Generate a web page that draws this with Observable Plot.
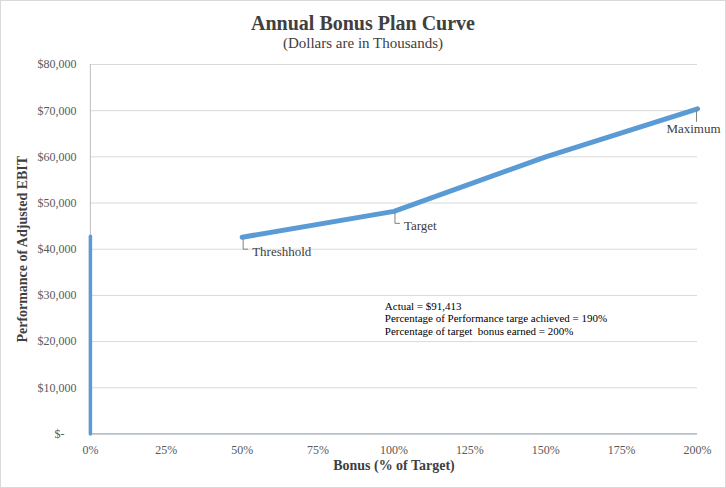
<!DOCTYPE html>
<html>
<head>
<meta charset="utf-8">
<script src="https://cdn.jsdelivr.net/npm/d3@7"></script>
<script src="https://cdn.jsdelivr.net/npm/@observablehq/plot@0.6"></script>
<style>
  html, body { margin: 0; padding: 0; background: #fff; }
  #frame { position: relative; width: 724px; height: 486px; border: 1px solid #d9d9d9; overflow: hidden; font-family: "Liberation Serif", "Times New Roman", serif; }
  #title { position: absolute; left: 0; width: 100%; top: 9px; text-align: center; font-size: 20px; font-weight: bold; color: #404040; line-height: 26px; }
  #subtitle { position: absolute; left: 0; width: 100%; top: 32px; text-align: center; font-size: 15px; color: #404040; line-height: 20px; }
  #chart { position: absolute; left: -1px; top: 54px; }
</style>
</head>
<body>
<div id="frame">
  <div id="title">Annual Bonus Plan Curve</div>
  <div id="subtitle">(Dollars are in Thousands)</div>
  <div id="chart"></div>
</div>
<script>
// ---- data ----
const bonusPct = [50, 100, 150, 200];
const ebit = [42600, 48200, 60000, 70400];
const zeroBarX = [0, 0];
const zeroBarY = [0, 42800];
const pointLabels = ["Threshhold", "Target", "", "Maximum"];
const xTicks = [0, 25, 50, 75, 100, 125, 150, 175, 200];
const yTicks = [0, 10000, 20000, 30000, 40000, 50000, 60000, 70000, 80000];
const noteLines = [
  "Actual = $91,413",
  "Percentage of Performance targe achieved = 190%",
  "Percentage of target  bonus earned = 200%"
];
const noteX = 97;
const noteY = [27700, 24900, 22100];

const curve = bonusPct.map((x, i) => ({x, y: ebit[i], label: pointLabels[i]}));
const zeroBar = zeroBarX.map((x, i) => ({x, y: zeroBarY[i]}));
const notes = noteLines.map((t, i) => ({x: noteX, y: noteY[i], t}));

const blue = "#5b9bd5";
const fmtY = d => d === 0 ? "$-\u00a0\u00a0\u00a0\u00a0" : "$" + d3.format(",")(d);

const leaderL = { draw(ctx) { ctx.moveTo(0, 1); ctx.lineTo(0, 12); ctx.lineTo(5, 12); } };
const leaderI = { draw(ctx) { ctx.moveTo(0, 1); ctx.lineTo(0, 13); } };

const plot = Plot.plot({
  width: 726,
  height: 432,
  marginTop: 9,
  marginBottom: 53,
  marginLeft: 90,
  marginRight: 28,
  style: { fontFamily: "Liberation Serif, Times New Roman, serif", fontSize: "12px", color: "#595959", background: "white" },
  x: { domain: [0, 200], label: null },
  y: { domain: [0, 80000], label: null },
  marks: [
    Plot.gridY(yTicks, { stroke: "#d9d9d9", strokeOpacity: 1, strokeWidth: 1 }),
    Plot.ruleX([0], { stroke: "#bfbfbf", strokeWidth: 1 }),
    Plot.ruleY([0], { stroke: "#a6b3c4", strokeWidth: 1.2 }),
    Plot.axisY(yTicks, { tickSize: 0, tickPadding: 14, tickFormat: fmtY, fill: "#595959", fontSize: 12, label: null }),
    Plot.axisX(xTicks, { tickSize: 0, tickPadding: 12, tickFormat: d => d + "%", fill: "#595959", fontSize: 12, label: null }),
    Plot.line(zeroBar, { x: "x", y: "y", stroke: blue, strokeWidth: 3.5 }),
    Plot.line(curve, { x: "x", y: "y", stroke: blue, strokeWidth: 5, strokeLinejoin: "round" }),
    Plot.dot(curve.filter(d => d.label && d.label !== "Maximum"), { x: "x", y: "y", symbol: leaderL, r: 5, stroke: "#7f7f7f", strokeWidth: 1, fill: "none", dx: 1 }),
    Plot.dot(curve.filter(d => d.label === "Maximum"), { x: "x", y: "y", symbol: leaderI, r: 5, stroke: "#7f7f7f", strokeWidth: 1, fill: "none", dx: -1 }),
    Plot.text(curve.filter(d => d.label && d.label !== "Maximum"), { x: "x", y: "y", text: "label", textAnchor: "start", dx: 10, dy: 15, fontSize: 13, fill: "#404040" }),
    Plot.text(curve.filter(d => d.label === "Maximum"), { x: "x", y: "y", text: "label", textAnchor: "end", dx: 23, dy: 20, fontSize: 13, fill: "#404040" }),
    Plot.text(notes, { x: "x", y: "y", text: "t", textAnchor: "start", fontSize: 11, fill: "#000" }),
    Plot.text(["Bonus (% of Target)"], { frameAnchor: "bottom", dy: 36, fontSize: 14, fontWeight: "bold", fill: "#404040" }),
    Plot.text(["Performance of Adjusted EBIT"], { frameAnchor: "left", textAnchor: "middle", dx: -68, rotate: -90, fontSize: 14, fontWeight: "bold", fill: "#404040" })
  ]
});
document.getElementById("chart").appendChild(plot);
</script>
</body>
</html>
